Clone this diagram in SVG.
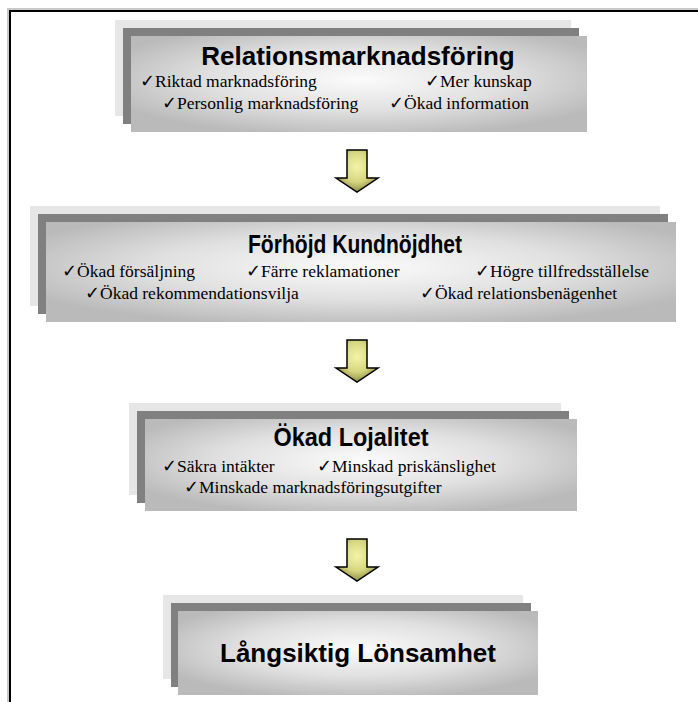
<svg xmlns="http://www.w3.org/2000/svg" width="698" height="702" viewBox="0 0 698 702">
<defs>
<radialGradient id="fg" cx="50%" cy="45%" r="60%" fx="50%" fy="45%">
<stop offset="0" stop-color="#fbfbfb"/>
<stop offset="0.55" stop-color="#e0e0e0"/>
<stop offset="1" stop-color="#bababa"/>
</radialGradient>
<radialGradient id="ag" cx="50%" cy="40%" r="60%">
<stop offset="0" stop-color="#f4f4a8"/>
<stop offset="0.6" stop-color="#d6d680"/>
<stop offset="1" stop-color="#8e8e44"/>
</radialGradient>
<path id="arrow" d="M-10,0 H10 V28 H21 L0,42 L-21,28 H-10 Z"/>
</defs>
<style>
.l1{fill:#e6e6e6}
.l2{fill:#808080}
.l3{fill:url(#fg)}
.t{font-family:"Liberation Sans",Arial,sans-serif;font-weight:bold;fill:#000;text-anchor:middle}
.i{font-family:"Liberation Serif","Times New Roman",serif;font-size:17.5px;fill:#000}
.arr{fill:url(#ag);stroke:#000;stroke-width:1.5;stroke-linejoin:miter}
</style>
<rect width="698" height="702" fill="#fff"/>
<g id="frame">
<path d="M8,702 V9 H698" fill="none" stroke="#c8c8c8" stroke-width="2"/>
<path d="M10,702 V11 H698" fill="none" stroke="#000" stroke-width="2"/>
</g>
<g id="node1">
<rect class="l1" x="115" y="20" width="456" height="96"/>
<rect class="l2" x="123" y="28" width="456" height="96"/>
<rect class="l3" x="131" y="36" width="456" height="96"/>
<text class="t" x="358" y="65" font-size="26">Relationsmarknadsföring</text>
<text class="i" x="140" y="87">✓Riktad marknadsföring</text>
<text class="i" x="425" y="87">✓Mer kunskap</text>
<text class="i" x="162" y="109">✓Personlig marknadsföring</text>
<text class="i" x="389" y="109">✓Ökad information</text>
</g>
<g id="node2">
<rect class="l1" x="30" y="206" width="630" height="100"/>
<rect class="l2" x="38" y="214" width="630" height="100"/>
<rect class="l3" x="46" y="222" width="630" height="100"/>
<text class="t" x="355" y="253" font-size="25" textLength="214" lengthAdjust="spacingAndGlyphs">Förhöjd Kundnöjdhet</text>
<text class="i" x="62" y="277">✓Ökad försäljning</text>
<text class="i" x="246" y="277">✓Färre reklamationer</text>
<text class="i" x="475" y="277">✓Högre tillfredsställelse</text>
<text class="i" x="85" y="299">✓Ökad rekommendationsvilja</text>
<text class="i" x="420" y="299">✓Ökad relationsbenägenhet</text>
</g>
<g id="node3">
<rect class="l1" x="129" y="403" width="432" height="92"/>
<rect class="l2" x="137" y="411" width="432" height="92"/>
<rect class="l3" x="145" y="419" width="432" height="92"/>
<text class="t" x="351" y="446" font-size="25" textLength="155" lengthAdjust="spacingAndGlyphs">Ökad Lojalitet</text>
<text class="i" x="162" y="472">✓Säkra intäkter</text>
<text class="i" x="317" y="472">✓Minskad priskänslighet</text>
<text class="i" x="184" y="493">✓Minskade marknadsföringsutgifter</text>
</g>
<g id="node4">
<rect class="l1" x="163" y="595" width="360" height="84"/>
<rect class="l2" x="171" y="603" width="360" height="84"/>
<rect class="l3" x="178" y="611" width="360" height="84"/>
<text class="t" x="358" y="662" font-size="26">Långsiktig Lönsamhet</text>
</g>
<g id="connectors">
<use href="#arrow" class="arr" x="357" y="150"/>
<use href="#arrow" class="arr" x="357" y="340"/>
<use href="#arrow" class="arr" x="357" y="539"/>
</g>
</svg>
